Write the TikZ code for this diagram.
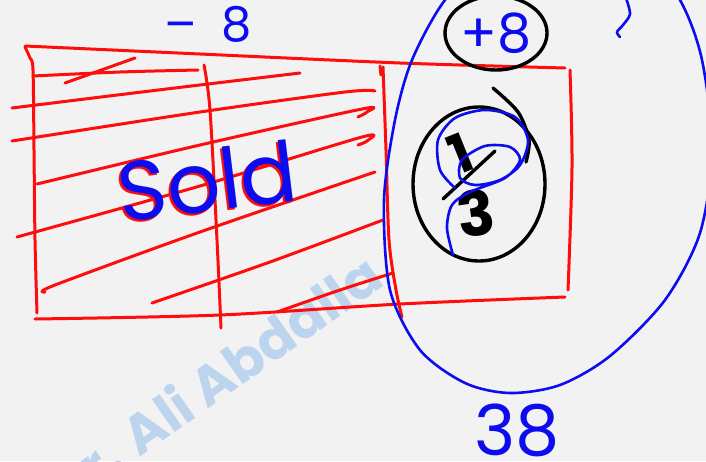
\documentclass[tikz,border=0pt]{standalone}
\usepackage{fontspec}
\setmainfont{Poppins}
\usetikzlibrary{shapes.geometric}
\definecolor{bg}{RGB}{242,242,242}
\definecolor{penred}{RGB}{255,12,12}
\definecolor{penblue}{RGB}{12,12,238}
\definecolor{wm}{RGB}{188,212,238}
\tikzset{
  redpen/.style={draw=penred,line width=3pt,line cap=round,line join=round},
  bluepen/.style={draw=penblue,line width=2.6pt,line cap=round,line join=round},
  blackpen/.style={draw=black,line width=3.4pt,line cap=round,line join=round},
  hand/.style={inner sep=0pt,outer sep=0pt},
}
\begin{document}
\begin{tikzpicture}[x=1pt,y=-1pt]
\path[fill=bg,use as bounding box] (0,0) rectangle (706,461);
\begin{scope}
\clip (0,0) rectangle (706,461);
% watermark
\node[hand,text=wm,rotate=35,font=\bfseries\fontsize{54}{54}\selectfont] (wmark) at (213,380) {Dr. Ali Abdalla};

% red frame
\draw[redpen] plot[smooth] coordinates {(25,46) (200,54) (400,63) (565,68)};
\draw[redpen] plot[smooth] coordinates {(25,47) (30,58) (33,70) (34,150) (35,240) (37,313)};
\draw[redpen] plot[smooth] coordinates {(35,319) (220,315) (400,304) (565,297)};
\draw[redpen] plot[smooth] coordinates {(204,65) (210,110) (217,240) (221,328)};
\draw[redpen] plot[smooth] coordinates {(383,67) (386,150) (389,240) (396,290) (402,317)};
\draw[redpen] (380,66) -- (381,75);
\draw[redpen] plot[smooth] coordinates {(570,70) (572,167) (568,290)};

% hatching
\draw[redpen] (65,83) -- (135,58);
\draw[redpen] plot[smooth] coordinates {(33,76) (120,72) (198,70)};
\draw[redpen] plot[smooth] coordinates {(12,108) (150,91) (300,73)};
\draw[redpen] plot[smooth] coordinates {(12,141) (200,112) (345,92) (375,91)};
\draw[redpen] plot[smooth] coordinates {(37,184) (200,145) (362,109) (367,112) (358,117)};
\draw[redpen] plot[smooth] coordinates {(17,237) (200,186) (362,137) (367,141) (358,145)};
\draw[redpen] plot[smooth] coordinates {(45,292) (55,285) (200,232) (375,172)};
\draw[redpen] plot[smooth] coordinates {(152,303) (270,262) (383,220)};
\draw[redpen] plot[smooth] coordinates {(277,312) (340,290) (393,273)};

% Sold
\node[hand,text=penred,rotate=7,font=\fontsize{84}{84}\selectfont] (soldshadow) at (205,183) {Sold};
\node[hand,text=penblue,rotate=7,font=\fontsize{84}{84}\selectfont] (sold) at (207,181) {Sold};

% -8
\node[hand,text=penblue,font=\fontsize{48}{48}\selectfont] (minus8) at (208,24) {–\hspace{24pt}8};

% big blue loop
\draw[bluepen] plot[smooth cycle] coordinates {(445,0) (412,60) (395,120) (384,200) (390,290) (420,350) (465,383) (510,393) (560,385) (610,356) (665,300) (700,233) (712,150) (702,60) (680,0) (640,-50) (560,-70) (490,-40)};

% squiggle
\draw[bluepen] plot[smooth] coordinates {(626,-2) (630,14) (623,25) (617,32) (620,37)};

% +8
\node[ellipse,blackpen,minimum width=102pt,minimum height=74pt,inner sep=0pt,text=penblue,font=\fontsize{54}{54}\selectfont] (plus8) at (496,33) {+8};

% 1/3 circle
\node[ellipse,blackpen,minimum width=132pt,minimum height=154pt,inner sep=0pt] (third) at (479,184) {};
\node[hand,rotate=22,font=\bfseries\fontsize{54}{54}\selectfont] (one) at (461,153) {1};
\draw[blackpen] (495,151) -- (443,199);
\node[hand,rotate=8,font=\bfseries\fontsize{62}{62}\selectfont] (three) at (476,213) {3};
\draw[blackpen] plot[smooth] coordinates {(493,88) (518,112) (529,140) (526,162)};
\draw[bluepen] plot[smooth] coordinates {(453,255) (447,228) (452,205) (470,192) (505,178) (520,160) (510,147) (485,146) (462,160) (460,178) (475,185) (500,180) (520,165) (528,140) (515,117) (485,110) (455,118) (438,140) (440,170) (455,188)};

% 38
\node[hand,text=penblue,font=\fontsize{70}{70}\selectfont] (total) at (517,430) {38};
\end{scope}
\end{tikzpicture}
\end{document}
